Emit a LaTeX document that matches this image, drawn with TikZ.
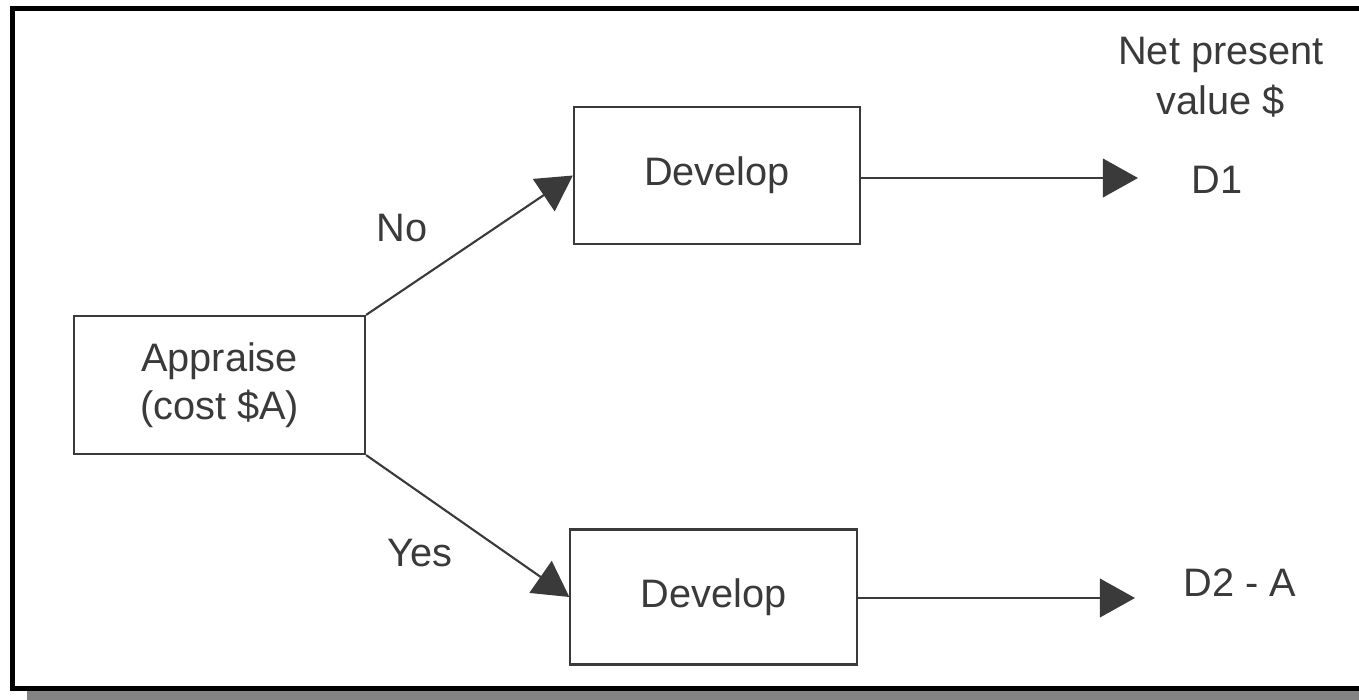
\documentclass[tikz,border=0pt]{standalone}
\usepackage{fontspec}
\setmainfont{Liberation Sans}
\usepackage{tikz}
\usetikzlibrary{arrows.meta}
\definecolor{ink}{HTML}{3A3A3A}
\definecolor{shadow}{HTML}{838383}

\begin{document}
\begin{tikzpicture}[x=0.01cm,y=-0.01cm,
    every node/.style={font=\fontsize{11.3}{13.6}\selectfont,text=ink},
    box/.style={draw=ink,line width=0.6pt,inner sep=0pt,align=center},
    arr/.style={draw=ink,line width=0.6pt,-{Triangle[length=10pt,width=11pt]}}]
                 \useasboundingbox (0,0) rectangle (1359,700);
                 % frame and shadow
                 \fill[shadow] (27,691) rectangle (1359,700);
                 \draw[line width=1.45pt] (1359,8.5) -- (12.5,8.5) -- (12.5,688.5) -- (1359,688.5);
                 % boxes
                 \node[box,minimum width=2.91cm,minimum height=1.38cm](app)at(219.5,385){Appraise\\(cost \$A)};
                 \node[box,minimum width=2.86cm,minimum height=1.37cm](devA)at(717,175.5){Develop};
                 \node[box,minimum width=2.86cm,minimum height=1.35cm](devB)at(713.5,597){Develop};
                 % values
                 \node[align=center](npv)at(1221,77){Net present\\[0.5pt]value \$};
                 \node(d1)at(1217,180){D1};
                 \node(d2)at(1240,583){D2 - A};
                 \coordinate(e1)at(1138,178);
                 \coordinate(e2)at(1135,598);
                 % branches
                 \draw[arr](app.north east)--(devA.west);
                 \draw[arr](app.south east)--(devB.west);
                 \node(no)at(402,228){No};
                 \node(yes)at(420,553){Yes};
                 \draw[arr](devA.east|-e1)--(e1);
                 \draw[arr](devB.east|-e2)--(e2);
               \end{tikzpicture}
\end{document}
